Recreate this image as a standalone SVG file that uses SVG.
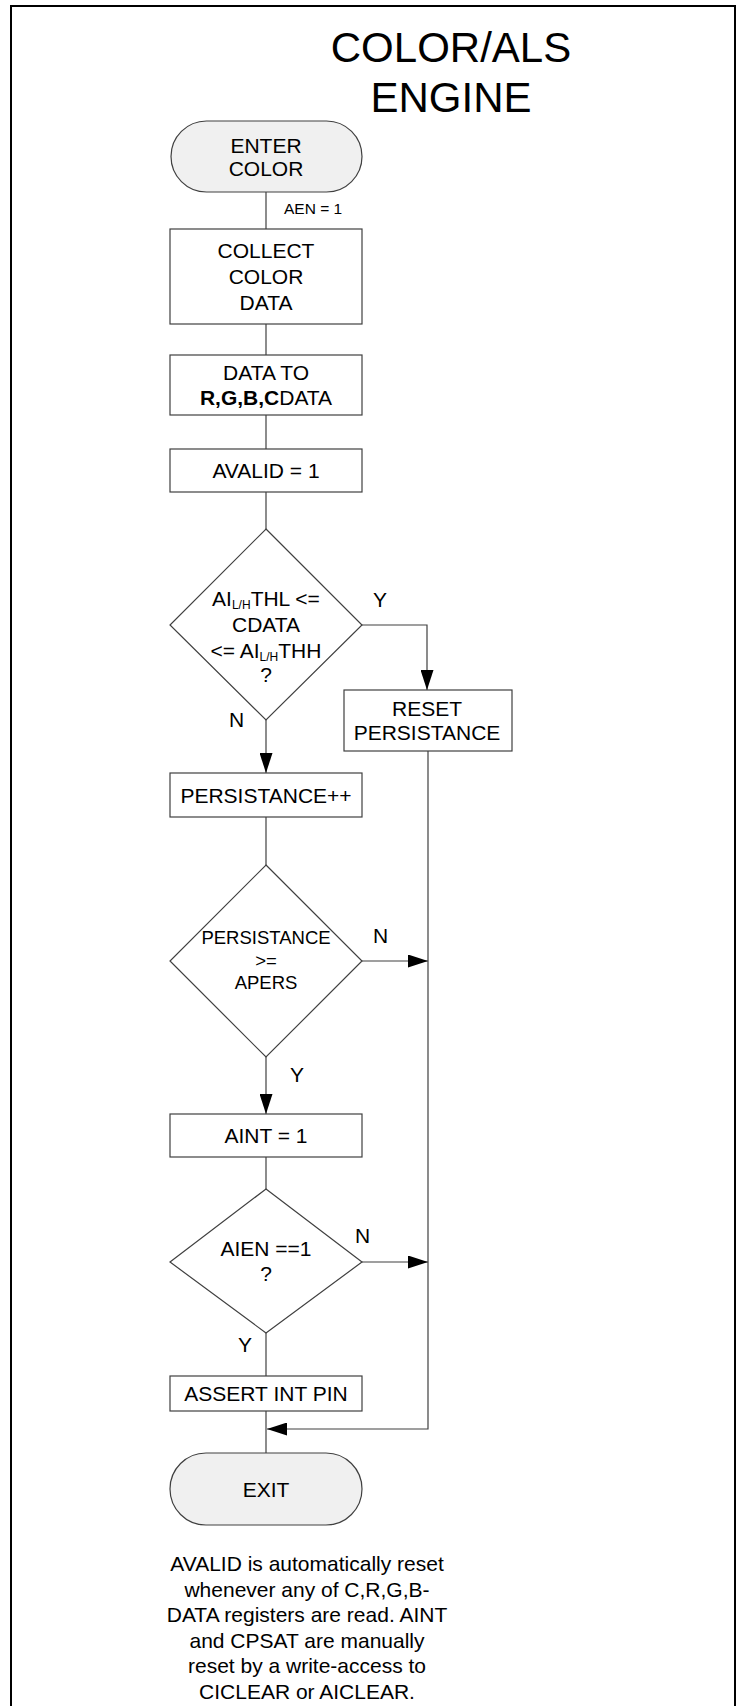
<svg xmlns="http://www.w3.org/2000/svg" width="737" height="1706" viewBox="0 0 737 1706">
<style>
text{font-family:"Liberation Sans",Arial,sans-serif;fill:#000;}
.t{font-size:21px;text-anchor:middle;}
.lbl{font-size:21px;}
.box{fill:#fff;stroke:#404040;stroke-width:1.2;}
.term{fill:#f0f0f0;stroke:#404040;stroke-width:1.2;}
.dia{fill:#fff;stroke:#404040;stroke-width:1.2;}
.con{fill:none;stroke:#404040;stroke-width:1.2;}
.arr{marker-end:url(#ah);}
</style>
<defs>
<marker id="ah" markerUnits="userSpaceOnUse" markerWidth="20" markerHeight="13" refX="20" refY="6.5" orient="auto">
<path d="M0,0 L20,6.5 L0,13 z" fill="#000"/>
</marker>
</defs>
<rect width="737" height="1706" fill="#fff"/>
<path d="M11,1706 V6 H735 V1706" fill="none" stroke="#000" stroke-width="2"/>
<g id="title">
<text x="451" y="62" style="font-size:42px;text-anchor:middle">COLOR/ALS</text>
<text x="451" y="112" style="font-size:42px;text-anchor:middle">ENGINE</text>
</g>
<g id="connectors">
<path class="con" d="M266,192 V229"/>
<path class="con" d="M266,324 V355"/>
<path class="con" d="M266,415 V449"/>
<path class="con" d="M266,492 V529"/>
<path class="con arr" d="M362,625 H427 V690"/>
<path class="con arr" d="M266,720 V773"/>
<path class="con" d="M266,817 V865"/>
<path class="con arr" d="M362,961 H428"/>
<path class="con arr" d="M266,1057 V1114"/>
<path class="con" d="M266,1157 V1189"/>
<path class="con arr" d="M362,1262 H428"/>
<path class="con" d="M266,1333 V1376"/>
<path class="con" d="M266,1411 V1453"/>
<path class="con arr" d="M428,751 V1429 H267"/>
<text class="lbl" x="284" y="214" style="font-size:15.5px">AEN = 1</text>
<text class="lbl" x="373" y="607">Y</text>
<text class="lbl" x="229" y="727">N</text>
<text class="lbl" x="373" y="943">N</text>
<text class="lbl" x="290" y="1082">Y</text>
<text class="lbl" x="355" y="1243">N</text>
<text class="lbl" x="238" y="1352">Y</text>
</g>
<g id="enter">
<rect class="term" x="171" y="121" width="191" height="71" rx="35.5" ry="35.5"/>
<text class="t" x="266" y="152.5">ENTER</text>
<text class="t" x="266" y="175.5">COLOR</text>
</g>
<g id="collect">
<rect class="box" x="170" y="229" width="192" height="95"/>
<text class="t" x="266" y="257.5">COLLECT</text>
<text class="t" x="266" y="283.5">COLOR</text>
<text class="t" x="266" y="309.5">DATA</text>
</g>
<g id="datato">
<rect class="box" x="170" y="355" width="192" height="60"/>
<text class="t" x="266" y="379.5">DATA TO</text>
<text class="t" x="266" y="404.5"><tspan font-weight="bold">R,G,B,C</tspan>DATA</text>
</g>
<g id="avalid">
<rect class="box" x="170" y="449" width="192" height="43"/>
<text class="t" x="266" y="477.5">AVALID = 1</text>
</g>
<g id="dec1">
<polygon class="dia" points="266,529 362,625 266,720 170,625"/>
<text class="t" x="266" y="606">AI<tspan font-size="12" dy="3">L/H</tspan><tspan dy="-3">THL &lt;=</tspan></text>
<text class="t" x="266" y="632">CDATA</text>
<text class="t" x="266" y="658">&lt;= AI<tspan font-size="12" dy="3">L/H</tspan><tspan dy="-3">THH</tspan></text>
<text class="t" x="266" y="682">?</text>
</g>
<g id="reset">
<rect class="box" x="344" y="690" width="168" height="61"/>
<text class="t" x="427" y="715.5">RESET</text>
<text class="t" x="427" y="739.5">PERSISTANCE</text>
</g>
<g id="persinc">
<rect class="box" x="170" y="773" width="192" height="44"/>
<text class="t" x="266" y="802.5">PERSISTANCE++</text>
</g>
<g id="dec2">
<polygon class="dia" points="266,865 362,961 266,1057 170,961"/>
<text class="t" x="266" y="944" style="font-size:18.5px">PERSISTANCE</text>
<text class="t" x="266" y="966.5" style="font-size:18.5px">&gt;=</text>
<text class="t" x="266" y="989" style="font-size:18.5px">APERS</text>
</g>
<g id="aint">
<rect class="box" x="170" y="1114" width="192" height="43"/>
<text class="t" x="266" y="1142.5">AINT = 1</text>
</g>
<g id="dec3">
<polygon class="dia" points="266,1189 362,1262 266,1333 170,1262"/>
<text class="t" x="266" y="1255.5">AIEN ==1</text>
<text class="t" x="266" y="1280.5">?</text>
</g>
<g id="assert">
<rect class="box" x="170" y="1376" width="192" height="35"/>
<text class="t" x="266" y="1400.5">ASSERT INT PIN</text>
</g>
<g id="exit">
<rect class="term" x="170" y="1453" width="192" height="72" rx="36" ry="36"/>
<text class="t" x="266" y="1496.5">EXIT</text>
</g>
<g id="note">
<text class="t" x="307" y="1571">AVALID is automatically reset</text>
<text class="t" x="307" y="1596.5">whenever any of C,R,G,B-</text>
<text class="t" x="307" y="1622">DATA registers are read. AINT</text>
<text class="t" x="307" y="1647.5">and CPSAT are manually</text>
<text class="t" x="307" y="1673">reset by a write-access to</text>
<text class="t" x="307" y="1698.5">CICLEAR or AICLEAR.</text>
</g>
</svg>
